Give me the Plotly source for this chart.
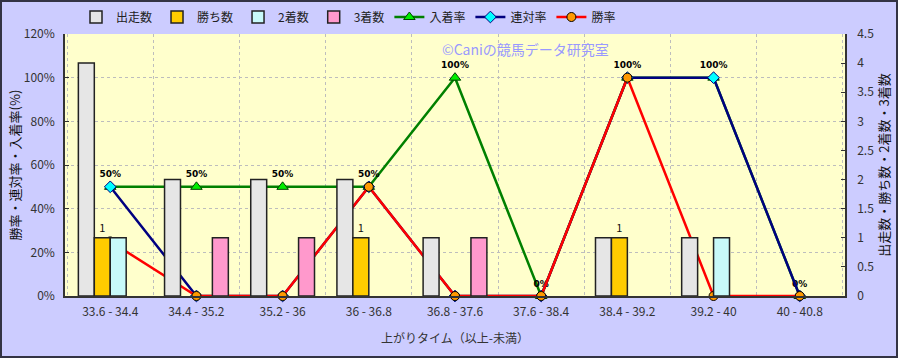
import plotly.graph_objects as go

categories = ["33.6 - 34.4", "34.4 - 35.2", "35.2 - 36", "36 - 36.8", "36.8 - 37.6",
              "37.6 - 38.4", "38.4 - 39.2", "39.2 - 40", "40 - 40.8"]
runs = [4, 2, 2, 2, 1, 0, 1, 1, 0]
wins = [1, 0, 0, 1, 0, 0, 1, 0, 0]
seconds = [1, 0, 0, 0, 0, 0, 0, 1, 0]
thirds = [0, 1, 1, 0, 1, 0, 0, 0, 0]
place_rate = [50, 50, 50, 50, 100, 0, 100, 100, 0]
quinella_rate = [50, 0, 0, 50, 0, 0, 100, 100, 0]
win_rate = [25, 0, 0, 50, 0, 0, 100, 0, 0]

FONT = "Noto Sans CJK JP"
W, H = 898, 358
L, R, T, B = 65, 53, 34, 62
pw, ph = W - L - R, H - T - B

fig = go.Figure()
bar_specs = [("出走数", runs, "#E6E6E6"), ("勝ち数", wins, "#FFCC00"),
             ("2着数", seconds, "#C8FAFA"), ("3着数", thirds, "#FF99CC")]
for name, vals, col in bar_specs:
    txt = None
    if name == "勝ち数":
        txt = [str(v) if v else "" for v in vals]
    fig.add_trace(go.Bar(
        x=categories, y=[v if v else None for v in vals], name=name, yaxis="y2",
        marker=dict(color=col, line=dict(color="#222222", width=1.5)),
        text=txt, textposition="outside", cliponaxis=False,
        textfont=dict(family=FONT, size=11, color="#111111"),
    ))

fig.add_trace(go.Scatter(
    x=categories, y=place_rate, name="入着率", mode="lines+markers+text",
    line=dict(color="#008000", width=2.5),
    marker=dict(symbol="triangle-up", size=10, color="#00EE00", line=dict(color="#004400", width=1)),
    text=[f"{v}%" for v in place_rate], textposition="top center",
    textfont=dict(family="DejaVu Sans", size=9, color="#000000", weight="bold"),
    cliponaxis=False,
))
fig.add_trace(go.Scatter(
    x=categories, y=quinella_rate, name="連対率", mode="lines+markers",
    line=dict(color="#000080", width=2.5),
    marker=dict(symbol="diamond", size=9, color="#00FFFF", line=dict(color="#000080", width=1)),
    cliponaxis=False,
))
fig.add_trace(go.Scatter(
    x=categories, y=win_rate, name="勝率", mode="lines+markers",
    line=dict(color="#FF0000", width=2.5),
    marker=dict(symbol="circle", size=9, color="#FF9900", line=dict(color="#000000", width=1)),
    cliponaxis=False,
))

fig.update_layout(
    width=W, height=H,
    margin=dict(l=L, r=R, t=T, b=B, autoexpand=False),
    paper_bgcolor="#CCCCFF",
    plot_bgcolor="#FFFFCC",
    font=dict(family=FONT, size=12, color="#333333"),
    barmode="group", bargap=0.26, bargroupgap=0,
    showlegend=True,
    legend=dict(orientation="h", x=(76 - L) / pw, xanchor="left", y=1 + 17 / ph, yanchor="middle",
                bgcolor="rgba(0,0,0,0)", font=dict(size=12, color="#222222"),
                traceorder="normal", itemwidth=30, tracegroupgap=0),
    xaxis=dict(
        type="category", tickson="boundaries", showgrid=True, automargin=False,
        gridcolor="#BDBDBD", griddash="dot", gridwidth=1,
        showline=True, linecolor="#333333", linewidth=1.5,
        ticks="", tickfont=dict(size=12, color="#333333"), ticklabelstandoff=4,
        title=dict(text="上がりタイム（以上-未満）", font=dict(size=12, color="#333333"), standoff=16),
    ),
    yaxis=dict(
        range=[0, 120], dtick=20, ticksuffix="%", automargin=False,
        showgrid=True, gridcolor="#BDBDBD", griddash="dot", gridwidth=1,
        showline=True, linecolor="#333333", linewidth=1.5,
        ticks="inside", ticklen=4, tickcolor="#333333", ticklabelstandoff=6,
        zeroline=False,
        tickfont=dict(size=12, color="#333333"),
        title=dict(text="勝率・連対率・入着率(%)", font=dict(size=13, color="#111111"), standoff=0),
    ),
    yaxis2=dict(
        range=[0, 4.5], dtick=0.5, overlaying="y", side="right", automargin=False,
        showgrid=False, zeroline=False,
        showline=True, linecolor="#333333", linewidth=1.5,
        ticks="inside", ticklen=4, tickcolor="#333333", ticklabelstandoff=8,
        tickfont=dict(size=12, color="#333333"),
        title=dict(text="出走数・勝ち数・2着数・3着数", font=dict(size=13, color="#111111"), standoff=4),
    ),
    annotations=[dict(
        text="©Caniの競馬データ研究室", xref="paper", yref="paper",
        x=(525 - L) / pw, y=1 - (49 - T) / ph, xanchor="center", yanchor="middle",
        showarrow=False,
        font=dict(family=FONT, size=14, color="#9999FF"),
    )],
    shapes=[dict(
        type="rect", xref="paper", yref="paper",
        x0=-(L - 1) / pw, x1=1 + (R - 1) / pw, y0=-(B - 1) / ph, y1=1 + (T - 1) / ph,
        line=dict(color="#333344", width=2), fillcolor="rgba(0,0,0,0)", layer="above",
    )],
)

fig.write_html("out.html", config={"displayModeBar": False},
               post_script="document.body.style.margin='0';document.body.style.padding='0';")
